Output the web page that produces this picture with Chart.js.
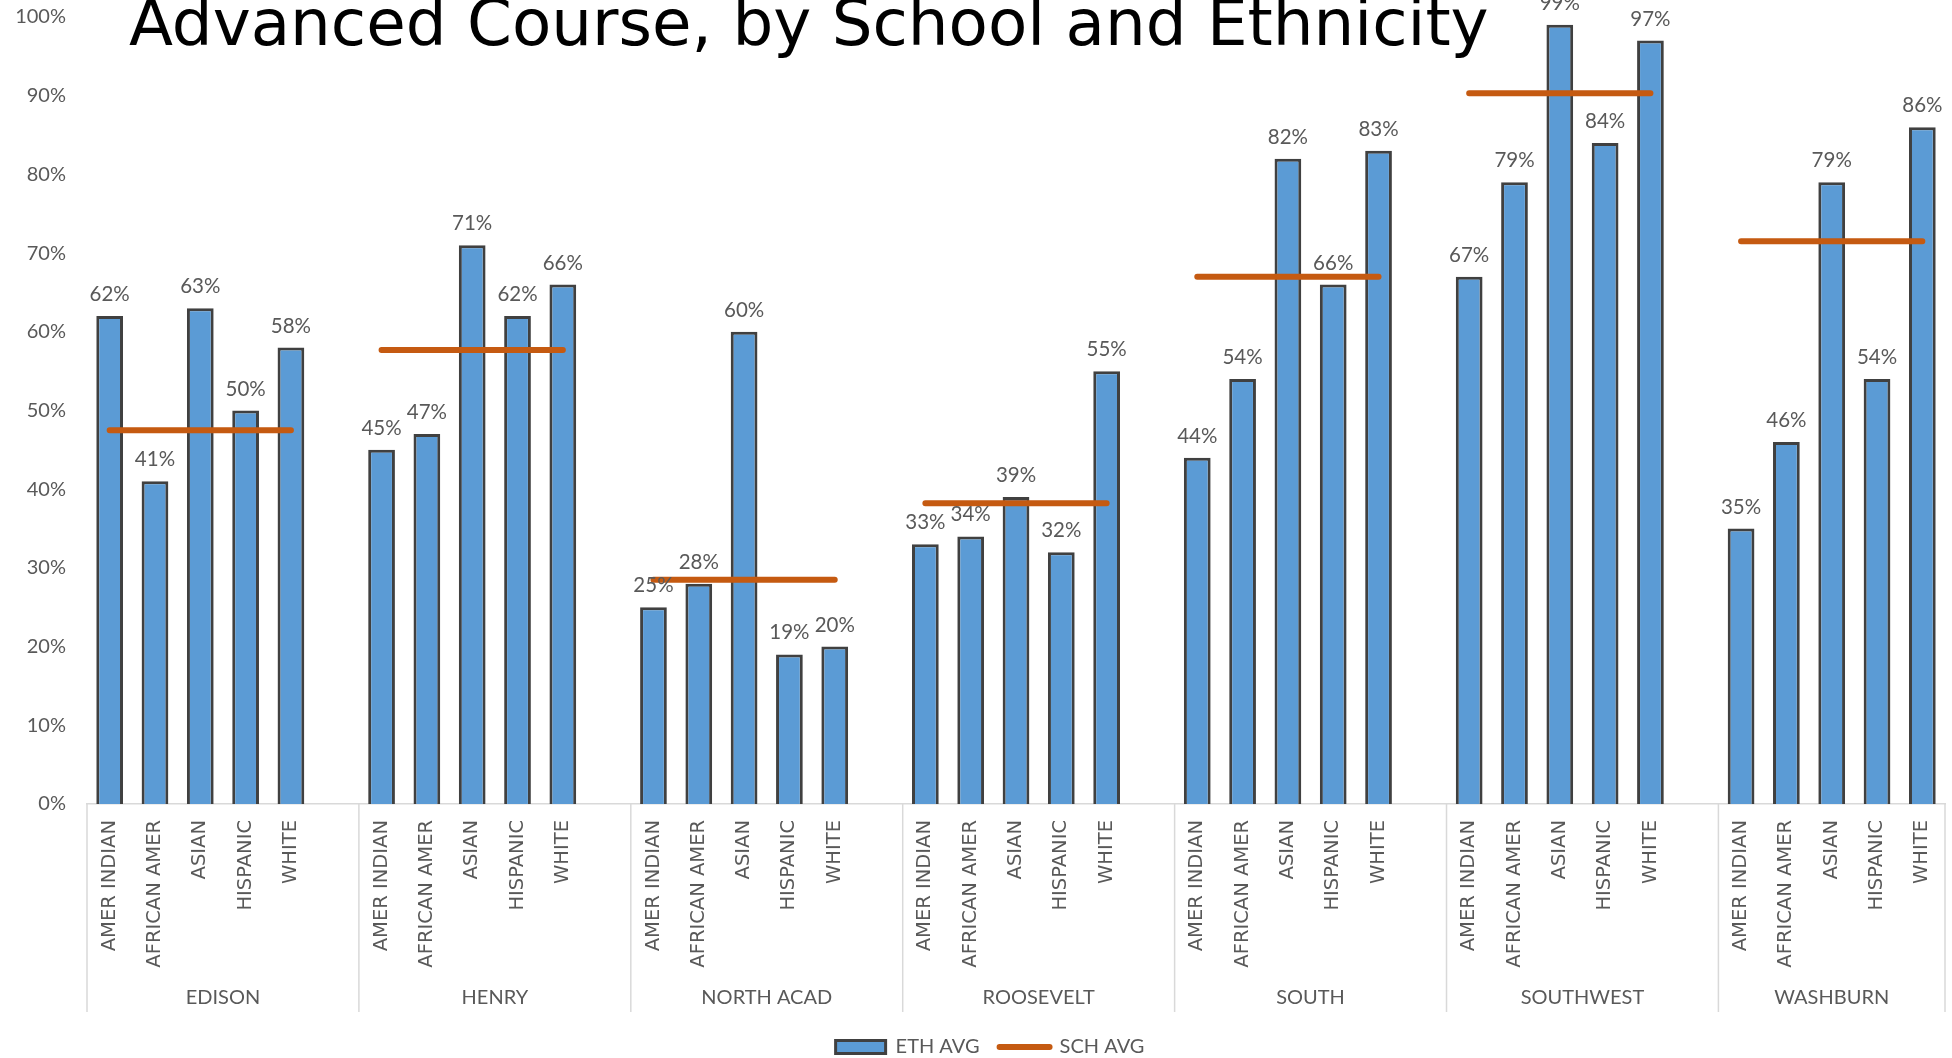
<!DOCTYPE html>
<html>
<head>
<meta charset="utf-8">
<title>Advanced Course, by School and Ethnicity</title>
<script src="https://cdn.jsdelivr.net/npm/chart.js@4.4.1/dist/chart.umd.min.js"></script>
<style>
  html, body { margin: 0; padding: 0; background: #ffffff; overflow: hidden; }
  #wrap { width: 1952px; height: 1058px; position: relative; }
  canvas { display: block; }
</style>
</head>
<body>
<div id="wrap"><canvas id="chart" width="1952" height="1058"></canvas></div>
<script>
// Schools (outer category level) and ethnic groups (inner level)
const schools = ['EDISON', 'HENRY', 'NORTH ACAD', 'ROOSEVELT', 'SOUTH', 'SOUTHWEST', 'WASHBURN'];
const ethnicities = ['AMER INDIAN', 'AFRICAN AMER', 'ASIAN', 'HISPANIC', 'WHITE'];

// Percent of students taking an advanced course, per ethnic group in each school
const edison     = [62, 41, 63, 50, 58];
const henry      = [45, 47, 71, 62, 66];
const northAcad  = [25, 28, 60, 19, 20];
const roosevelt  = [33, 34, 39, 32, 55];
const south      = [44, 54, 82, 66, 83];
const southwest  = [67, 79, 99, 84, 97];
const washburn   = [35, 46, 79, 54, 86];
const ethAvgBySchool = [edison, henry, northAcad, roosevelt, south, southwest, washburn];

// School-wide average for each school
const schAvg = [47.5, 57.7, 28.5, 38.2, 67.0, 90.3, 71.5];

// Y axis tick values
const yTicks = [0, 10, 20, 30, 40, 50, 60, 70, 80, 90, 100];

// Flatten into one category axis; a blank slot separates consecutive schools
const labels = [];
const ethData = [];
const schData = [];
const groupStart = [];
schools.forEach((s, g) => {
  groupStart.push(labels.length);
  ethnicities.forEach((e, i) => {
    labels.push(e);
    ethData.push(ethAvgBySchool[g][i]);
    schData.push(schAvg[g]);
  });
  if (g < schools.length - 1) {
    labels.push('');
    ethData.push(null);
    schData.push(null);
  }
});

const GREY_TEXT = '#595959';
const AXIS_GREY = '#d9d9d9';
const PLOT_LEFT = 87;
const LABEL_AREA = 208;
const LEGEND_SHIFT = 35;

// Value labels above each bar
const barValueLabels = {
  id: 'barValueLabels',
  afterDatasetsDraw(chart) {
    const ctx = chart.ctx;
    const meta = chart.getDatasetMeta(0);
    ctx.save();
    ctx.font = '20.5px Lato';
    ctx.fillStyle = GREY_TEXT;
    ctx.textAlign = 'center';
    ctx.textBaseline = 'alphabetic';
    meta.data.forEach((bar, i) => {
      const v = chart.data.datasets[0].data[i];
      if (v === null || v === undefined) return;
      ctx.fillText(v + '%', bar.x, bar.y - 15);
    });
    ctx.restore();
  }
};

// Outer category level: school names with divider lines
const schoolAxis = {
  id: 'schoolAxis',
  afterDraw(chart) {
    const ctx = chart.ctx;
    const x = chart.scales.x;
    const n = chart.data.labels.length;
    const slot = (x.getPixelForValue(n - 1) - x.getPixelForValue(0)) / (n - 1);
    const top = chart.chartArea.bottom;
    const bottom = top + LABEL_AREA;
    const edges = groupStart.map(i => x.getPixelForValue(i) - slot / 2);
    edges.push(x.getPixelForValue(n - 1) + slot / 2);
    ctx.save();
    ctx.strokeStyle = AXIS_GREY;
    ctx.lineWidth = 1.5;
    edges.forEach(px => {
      ctx.beginPath();
      ctx.moveTo(px, top);
      ctx.lineTo(px, bottom);
      ctx.stroke();
    });
    ctx.font = '20px Lato';
    ctx.fillStyle = GREY_TEXT;
    ctx.textAlign = 'center';
    ctx.textBaseline = 'middle';
    schools.forEach((s, g) => {
      ctx.fillText(s, (edges[g] + edges[g + 1]) / 2, top + 194);
    });
    ctx.restore();
  }
};

// Slide heading laid over the top of the plot
const heading = {
  id: 'heading',
  afterDraw(chart) {
    const ctx = chart.ctx;
    ctx.save();
    ctx.font = '64.3px "DejaVu Sans"';
    ctx.fillStyle = '#000000';
    ctx.textAlign = 'left';
    ctx.textBaseline = 'alphabetic';
    ctx.fillText('Advanced Course, by School and Ethnicity', 129, 45);
    ctx.restore();
  }
};

// Centre the legend under the plot rather than the whole canvas
const legendOffset = {
  id: 'legendOffset',
  afterLayout(chart) {
    if (chart.legend) chart.legend.left += LEGEND_SHIFT;
  }
};

Chart.defaults.font.family = 'Lato';
Chart.defaults.color = GREY_TEXT;

new Chart(document.getElementById('chart'), {
  data: {
    labels: labels,
    datasets: [
      {
        type: 'bar',
        label: 'ETH AVG',
        data: ethData,
        backgroundColor: '#5B9BD5',
        borderColor: '#404040',
        borderWidth: 3,
        barPercentage: 0.59,
        categoryPercentage: 1.0,
        order: 1
      },
      {
        type: 'line',
        label: 'SCH AVG',
        data: schData,
        borderColor: '#C55A11',
        backgroundColor: '#C55A11',
        borderWidth: 6,
        borderCapStyle: 'round',
        pointRadius: 0,
        pointHoverRadius: 0,
        spanGaps: false,
        tension: 0,
        order: 0
      }
    ]
  },
  options: {
    responsive: false,
    animation: false,
    devicePixelRatio: 1,
    events: [],
    layout: { padding: { left: 0, right: 7, top: 17, bottom: -9 } },
    scales: {
      x: {
        type: 'category',
        offset: true,
        grid: { display: false, drawTicks: false },
        border: { display: true, color: AXIS_GREY, width: 1.5 },
        ticks: {
          autoSkip: false,
          minRotation: 90,
          maxRotation: 90,
          padding: 16,
          color: GREY_TEXT,
          font: { family: 'DejaVu Sans', size: 19.5 }
        },
        afterFit(scale) {
          scale.height = 213;
          scale.paddingLeft = 0;
          scale.paddingRight = 0;
        }
      },
      y: {
        min: 0,
        max: 100,
        grid: { display: false, drawTicks: false },
        border: { display: false },
        afterBuildTicks(scale) { scale.ticks = yTicks.map(v => ({ value: v })); },
        ticks: {
          padding: 21,
          color: GREY_TEXT,
          font: { family: 'Lato', size: 20 },
          callback: (v) => v + '%'
        },
        afterFit(scale) {
          scale.width = PLOT_LEFT;
          scale.paddingTop = 0;
          scale.paddingBottom = 0;
        }
      }
    },
    plugins: {
      title: { display: false },
      tooltip: { enabled: false },
      legend: {
        display: true,
        position: 'bottom',
        align: 'center',
        labels: {
          usePointStyle: true,
          pointStyleWidth: 50,
          boxHeight: 13,
          padding: 20,
          color: GREY_TEXT,
          font: { family: 'Lato', size: 20 },
          sort: (a, b) => a.datasetIndex - b.datasetIndex,
          generateLabels(chart) {
            const items = Chart.defaults.plugins.legend.labels.generateLabels(chart);
            items.forEach(it => {
              it.pointStyle = it.datasetIndex === 0 ? 'rect' : 'line';
              if (it.datasetIndex === 1) { it.lineCap = 'round'; it.lineWidth = 6; }
            });
            return items;
          }
        }
      }
    }
  },
  plugins: [barValueLabels, schoolAxis, heading, legendOffset]
});
</script>
</body>
</html>
